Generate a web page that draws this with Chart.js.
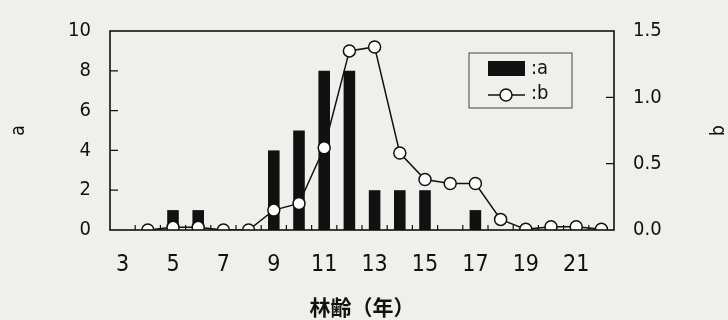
<!DOCTYPE html>
<html>
<head>
<meta charset="utf-8">
<script src="https://cdn.jsdelivr.net/npm/chart.js@4"></script>
<style>
  html, body { margin: 0; padding: 0; background: #efefec; }
  #wrap { width: 728px; height: 320px; }
</style>
</head>
<body>
<div id="wrap"><canvas id="chart" width="728" height="320"></canvas></div>
<script>
// forest age (years) on x
const ages = ["3","4","5","6","7","8","9","10","11","12","13","14","15","16","17","18","19","20","21","22"];
// series a (bars, left axis)
const aValues = [null, null, 1, 1, null, null, 4, 5, 8, 8, 2, 2, 2, null, 1, null, null, null, null, null];
// series b (line, right axis)
const bValues = [null, 0, 0.02, 0.02, 0, 0, 0.15, 0.2, 0.62, 1.35, 1.38, 0.58, 0.38, 0.35, 0.35, 0.08, 0.005, 0.025, 0.025, 0.005];
const aTicks = [0, 2, 4, 6, 8, 10];
const bTicks = [0, 0.5, 1.0, 1.5];

const narrow = "'DejaVu Sans Condensed', 'Liberation Sans Narrow', 'Liberation Sans', sans-serif";
const ink = "#111";

// background, frame, inward ticks, right title and an in-plot legend
const decorations = {
  id: "decorations",
  beforeDraw(chart) {
    const ctx = chart.ctx;
    ctx.save();
    ctx.fillStyle = "#efefec";
    ctx.fillRect(0, 0, chart.width, chart.height);
    ctx.restore();
  },
  afterDraw(chart) {
    const { ctx, chartArea: ca, scales } = chart;
    ctx.save();
    ctx.strokeStyle = ink;
    ctx.lineWidth = 1.6;
    ctx.strokeRect(ca.left, ca.top, ca.right - ca.left, ca.bottom - ca.top);

    ctx.lineWidth = 1.2;
    ctx.beginPath();
    aTicks.slice(1, -1).forEach(v => {
      const y = scales.a.getPixelForValue(v);
      ctx.moveTo(ca.left, y); ctx.lineTo(ca.left + 8, y);
    });
    bTicks.slice(1, -1).forEach(v => {
      const y = scales.b.getPixelForValue(v);
      ctx.moveTo(ca.right, y); ctx.lineTo(ca.right - 8, y);
    });
    const xs = scales.x;
    for (let i = 1; i < ages.length; i++) {
      const x = (xs.getPixelForValue(i - 1) + xs.getPixelForValue(i)) / 2;
      ctx.moveTo(x, ca.bottom); ctx.lineTo(x, ca.bottom - 5);
    }
    ctx.stroke();

    // right axis title, turned the same way as the left one
    ctx.save();
    ctx.translate(ca.right + 105, (ca.top + ca.bottom) / 2);
    ctx.rotate(-Math.PI / 2);
    ctx.font = "19px " + narrow;
    ctx.fillStyle = ink;
    ctx.textAlign = "center";
    ctx.textBaseline = "middle";
    ctx.fillText("b", 0, 0);
    ctx.restore();

    // legend box
    const lx = ca.left + 359, ly = ca.top + 22, lw = 103, lh = 55;
    ctx.lineWidth = 1;
    ctx.strokeStyle = "#444";
    ctx.strokeRect(lx, ly, lw, lh);
    ctx.fillStyle = ink;
    ctx.fillRect(lx + 19, ly + 8, 37, 15);
    ctx.strokeStyle = ink;
    ctx.lineWidth = 1.5;
    ctx.beginPath();
    ctx.moveTo(lx + 19, ly + 42); ctx.lineTo(lx + 56, ly + 42);
    ctx.stroke();
    ctx.beginPath();
    ctx.arc(lx + 37, ly + 42, 6, 0, Math.PI * 2);
    ctx.fillStyle = "#fff";
    ctx.fill();
    ctx.stroke();
    ctx.fillStyle = ink;
    ctx.font = "20px " + narrow;
    ctx.textBaseline = "middle";
    ctx.fillText(":a", lx + 62, ly + 16);
    ctx.fillText(":b", lx + 62, ly + 41);
    ctx.restore();
  }
};

new Chart(document.getElementById("chart"), {
  data: {
    labels: ages,
    datasets: [
      {
        type: "line",
        label: "b",
        data: bValues,
        yAxisID: "b",
        order: 1,
        borderColor: ink,
        borderWidth: 1.5,
        pointRadius: 6,
        pointBorderWidth: 1.5,
        pointBackgroundColor: "#fff",
        pointBorderColor: ink,
        tension: 0,
        spanGaps: false
      },
      {
        type: "bar",
        label: "a",
        data: aValues,
        yAxisID: "a",
        order: 2,
        backgroundColor: ink,
        barPercentage: 0.46,
        categoryPercentage: 1
      }
    ]
  },
  options: {
    responsive: false,
    animation: false,
    layout: { padding: { top: 18, left: 0, right: 0, bottom: 0 } },
    plugins: { legend: { display: false }, tooltip: { enabled: false } },
    scales: {
      x: {
        offset: true,
        grid: { display: false, drawTicks: false },
        border: { display: false },
        ticks: {
          autoSkip: false, maxRotation: 0, padding: 21, color: ink,
          font: { family: narrow, size: 23 },
          callback(v, i) { return Number(ages[i]) % 2 === 1 ? ages[i] : ""; }
        },
        title: {
          display: true, text: "林齢（年）", color: ink,
          font: { family: "'Noto Sans CJK JP', sans-serif", size: 21, weight: "bold" },
          padding: { top: 4, bottom: 0 }
        },
        afterFit(s) { s.height = 90; }
      },
      a: {
        position: "left",
        min: 0, max: 10,
        grid: { display: false, drawTicks: false },
        border: { display: false },
        ticks: { stepSize: 2, padding: 19, color: ink, font: { family: narrow, size: 20 } },
        title: {
          display: true, text: "a", color: ink,
          font: { family: narrow, size: 19 },
          padding: { top: 8, bottom: 0 }
        },
        afterFit(s) { s.width = 110; }
      },
      b: {
        position: "right",
        min: 0, max: 1.5,
        grid: { display: false, drawTicks: false },
        border: { display: false },
        ticks: {
          stepSize: 0.5, padding: 19, color: ink, font: { family: narrow, size: 20 },
          callback(v) { return v.toFixed(1); }
        },
        afterFit(s) { s.width = 114; }
      }
    }
  },
  plugins: [decorations]
});
</script>
</body>
</html>
